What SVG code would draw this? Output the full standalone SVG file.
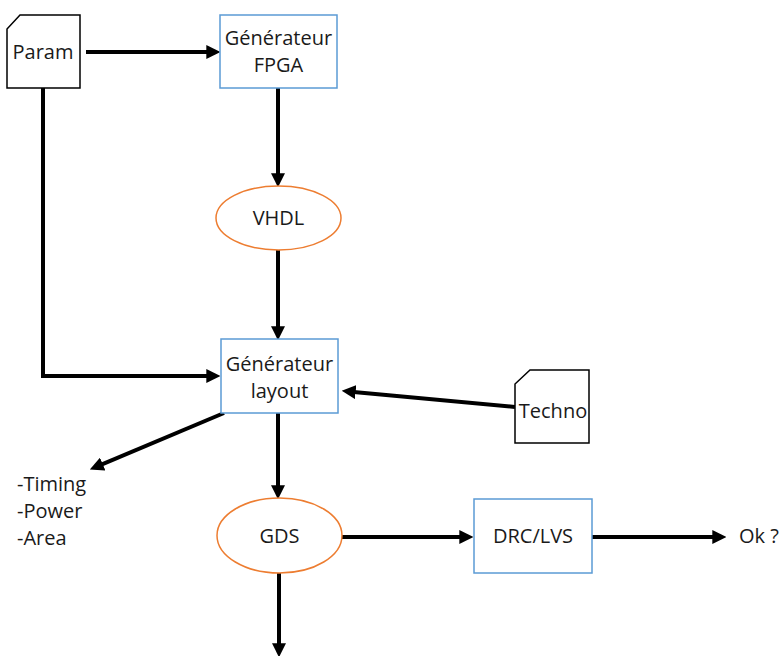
<svg xmlns="http://www.w3.org/2000/svg" width="781" height="656" viewBox="0 0 781 656">
<style>
.box{fill:#fff;stroke:#5B9BD5;stroke-width:1.5}
.ell{fill:#fff;stroke:#ED7D31;stroke-width:1.5}
.card{fill:#fff;stroke:#000;stroke-width:1.5}
.lbl{font-family:"Open Sans","Liberation Sans",sans-serif;font-size:20px;fill:#1a1a1a}
.mid{text-anchor:middle}
.con{fill:none;stroke:#000;stroke-width:4}
</style>
<defs>
<marker id="ah" markerUnits="userSpaceOnUse" markerWidth="14" markerHeight="14" refX="4" refY="6" orient="auto" viewBox="0 0 12 12">
<path d="M0,0 L12,6 L0,12 z" fill="#000"/>
</marker>
</defs>
<g id="connectors">
<path class="con" marker-end="url(#ah)" d="M86,52 H211"/>
<path class="con" marker-end="url(#ah)" d="M278,88 V178"/>
<path class="con" marker-end="url(#ah)" d="M278,250 V331"/>
<path class="con" marker-end="url(#ah)" d="M43,88 V376 H211"/>
<path class="con" marker-end="url(#ah)" d="M515,407 L351,391.7"/>
<path class="con" marker-end="url(#ah)" d="M224,413 L98.4,465.9"/>
<path class="con" marker-end="url(#ah)" d="M278,413 V490"/>
<path class="con" marker-end="url(#ah)" d="M342,537 H464"/>
<path class="con" marker-end="url(#ah)" d="M592,537 H717"/>
<path class="con" marker-end="url(#ah)" d="M279,573 V648"/>
</g>
<g id="param">
<path class="card" d="M20,15 H80 V88 H7 V29 Z"/>
<text class="lbl mid" x="43" y="59">Param</text>
</g>
<g id="gen-fpga">
<rect class="box" x="220" y="15" width="117" height="73"/>
<text class="lbl mid" x="278.5" y="45">Générateur</text>
<text class="lbl mid" x="278.5" y="72">FPGA</text>
</g>
<g id="vhdl">
<ellipse class="ell" cx="278.5" cy="218" rx="62.5" ry="32"/>
<text class="lbl mid" x="278.5" y="225">VHDL</text>
</g>
<g id="gen-layout">
<rect class="box" x="221" y="339" width="117" height="74"/>
<text class="lbl mid" x="279.5" y="371">Générateur</text>
<text class="lbl mid" x="279.5" y="398">layout</text>
</g>
<g id="techno">
<path class="card" d="M530,370 H589 V443 H515 V384 Z"/>
<text class="lbl mid" x="553" y="418">Techno</text>
</g>
<g id="metrics">
<text class="lbl" x="17" y="491">-Timing</text>
<text class="lbl" x="17" y="518">-Power</text>
<text class="lbl" x="17" y="545">-Area</text>
</g>
<g id="gds">
<ellipse class="ell" cx="279.5" cy="535.5" rx="62.5" ry="37.5"/>
<text class="lbl mid" x="279.5" y="543">GDS</text>
</g>
<g id="drc">
<rect class="box" x="474" y="499" width="118" height="74"/>
<text class="lbl mid" x="533" y="543">DRC/LVS</text>
</g>
<g id="ok">
<text class="lbl" x="739" y="543">Ok ?</text>
</g>
</svg>
